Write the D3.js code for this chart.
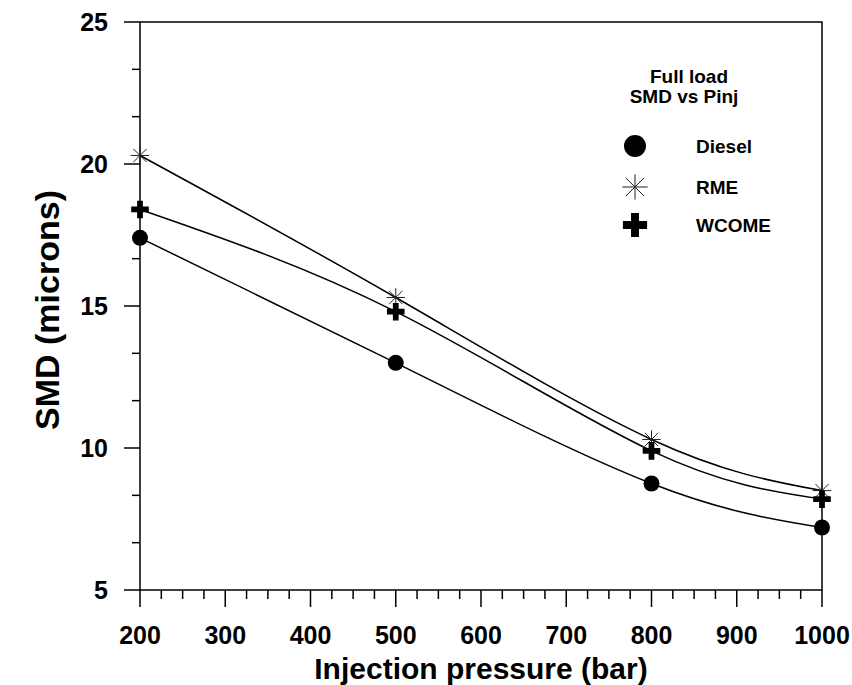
<!DOCTYPE html>
<html>
<head>
<meta charset="utf-8">
<script src="https://cdn.jsdelivr.net/npm/d3@7"></script>
<style>
  html, body { margin: 0; padding: 0; background: #fff; }
  svg { display: block; font-family: "Liberation Sans", Arial, sans-serif; font-weight: bold; }
</style>
</head>
<body>
<svg id="chart" width="852" height="685"></svg>
<script>
// ---- data ----
const pressures = [200, 500, 800, 1000];
const diesel = [17.4, 13.0, 8.75, 7.2];
const rme = [20.3, 15.3, 10.3, 8.5];
const wcome = [18.4, 14.8, 9.9, 8.2];
const seriesNames = ["Diesel", "RME", "WCOME"];
const xTicks = [200, 300, 400, 500, 600, 700, 800, 900, 1000];
const yTicks = [5, 10, 15, 20, 25];
const legendTitle = ["Full load", "SMD vs Pinj"];
const xTitle = "Injection pressure (bar)";
const yTitle = "SMD (microns)";

const svg = d3.select("#chart");
const L = 140, R = 822, T = 22, B = 590;
const x = d3.scaleLinear().domain([200, 1000]).range([L, R]);
const y = d3.scaleLinear().domain([5, 25]).range([B, T]);

// frame
svg.append("rect").attr("x", L).attr("y", T).attr("width", R - L).attr("height", B - T)
  .attr("fill", "none").attr("stroke", "#000").attr("stroke-width", 1.5);

// x axis ticks
const xMinor = d3.range(200, 1000.1, 25).filter(v => v % 100 !== 0);
svg.append("g").selectAll("line.xmin").data(xMinor).join("line")
  .attr("x1", d => x(d)).attr("x2", d => x(d)).attr("y1", B).attr("y2", B + 9)
  .attr("stroke", "#000").attr("stroke-width", 1.5);
svg.append("g").selectAll("line.xmaj").data(xTicks).join("line")
  .attr("x1", d => x(d)).attr("x2", d => x(d)).attr("y1", B).attr("y2", B + 17)
  .attr("stroke", "#000").attr("stroke-width", 1.5);
svg.append("g").selectAll("text").data(xTicks).join("text")
  .attr("x", d => x(d)).attr("y", 644).attr("text-anchor", "middle")
  .attr("font-size", 25).text(d => d);

// y axis ticks
const yMinor = d3.range(0, 12).map(i => 5 + i * 5 / 3).filter((v, i) => i % 3 !== 0);
svg.append("g").selectAll("line").data(yMinor).join("line")
  .attr("x1", L - 8).attr("x2", L).attr("y1", d => y(d)).attr("y2", d => y(d))
  .attr("stroke", "#000").attr("stroke-width", 1.5);
svg.append("g").selectAll("line").data(yTicks).join("line")
  .attr("x1", L - 16).attr("x2", L).attr("y1", d => y(d)).attr("y2", d => y(d))
  .attr("stroke", "#000").attr("stroke-width", 1.5);
svg.append("g").selectAll("text").data(yTicks).join("text")
  .attr("x", 108).attr("y", d => y(d) + 9).attr("text-anchor", "end")
  .attr("font-size", 25).text(d => d);

// titles
svg.append("text").attr("x", (L + R) / 2).attr("y", 679).attr("text-anchor", "middle")
  .attr("font-size", 30).text(xTitle);
svg.append("text").attr("transform", `translate(59,310) rotate(-90)`)
  .attr("text-anchor", "middle").attr("font-size", 34).text(yTitle);

// curves
const series = [
  { name: seriesNames[0], vals: diesel, marker: "circle" },
  { name: seriesNames[1], vals: rme, marker: "star" },
  { name: seriesNames[2], vals: wcome, marker: "plus" }
];
const line = d3.line().x(d => x(d[0])).y(d => y(d[1])).curve(d3.curveNatural);
series.forEach(s => {
  const pts = pressures.map((p, i) => [p, s.vals[i]]);
  svg.append("path").datum(pts).attr("d", line)
    .attr("fill", "none").attr("stroke", "#000").attr("stroke-width", 1.5);
});

function drawMarker(g, type, cx, cy, size) {
  if (type === "circle") {
    g.append("circle").attr("cx", cx).attr("cy", cy).attr("r", size).attr("fill", "#000");
  } else if (type === "plus") {
    const a = size * 1.1, w = size * 0.36;
    g.append("path").attr("fill", "#000")
      .attr("d", `M${cx - w},${cy - a}H${cx + w}V${cy - w}H${cx + a}V${cy + w}H${cx + w}V${cy + a}H${cx - w}V${cy + w}H${cx - a}V${cy - w}H${cx - w}Z`);
  } else {
    const a = size * 1.15, d = a * 0.72;
    const segs = [[-a, 0, a, 0], [0, -a, 0, a], [-d, -d, d, d], [-d, d, d, -d]];
    segs.forEach(sg => g.append("line")
      .attr("x1", cx + sg[0]).attr("y1", cy + sg[1]).attr("x2", cx + sg[2]).attr("y2", cy + sg[3])
      .attr("stroke", "#222").attr("stroke-width", 1));
  }
}

series.forEach(s => {
  const g = svg.append("g");
  pressures.forEach((p, i) => drawMarker(g, s.marker, x(p), y(s.vals[i]), 8));
});

// legend
svg.append("text").attr("x", 689).attr("y", 83).attr("text-anchor", "middle")
  .attr("font-size", 19).text(legendTitle[0]);
svg.append("text").attr("x", 684).attr("y", 103).attr("text-anchor", "middle")
  .attr("font-size", 19).text(legendTitle[1]);
const legY = [146, 187, 225];
series.forEach((s, i) => {
  const g = svg.append("g");
  drawMarker(g, s.marker, 635, legY[i], 11);
  g.append("text").attr("x", 696).attr("y", legY[i] + 7).attr("font-size", 19).text(s.name);
});
</script>
</body>
</html>
